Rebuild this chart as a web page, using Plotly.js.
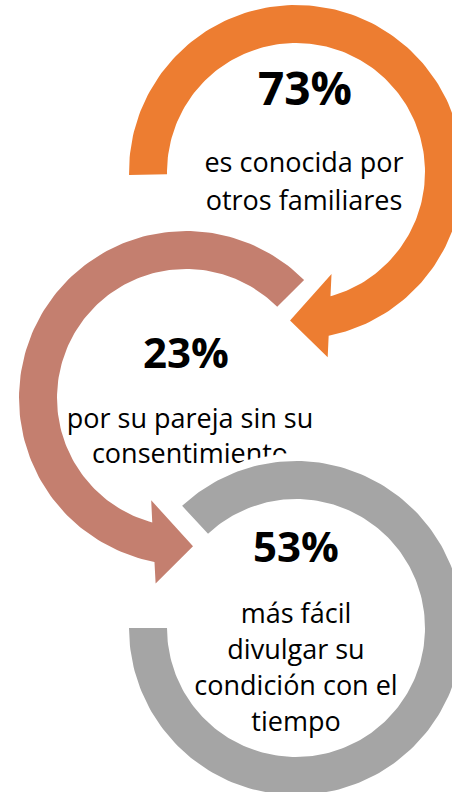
<!DOCTYPE html>
<html>
<head>
<meta charset="utf-8">
<script src="https://cdn.plot.ly/plotly-3.0.1.min.js"></script>
<style>
  html, body { margin: 0; padding: 0; background: #ffffff; }
  #chart { width: 452px; height: 792px; }
</style>
</head>
<body>
<div id="chart"></div>
<script>
// ---------- DATA ----------
const pctValues = [73, 23, 53];
const descLines = [
  ['es conocida por', 'otros familiares'],
  ['por su pareja sin su', 'consentimiento'],
  ['más fácil', 'divulgar su', 'condición con el', 'tiempo']
];

// ---------- STYLE / GEOMETRY CONFIG ----------
const ringColors = ['#ED7D31', '#C47F6F', '#A5A5A5'];
const R_IN = 129, R_OUT = 167;
const rings = [
  { cx: 296, cy: 172, start: 181, tip: -92.3, dir: -1, arrow: true },
  { cx: 186, cy: 398, start: 45, tip: 272.7, dir: 1, arrow: true },
  { cx: 296, cy: 628, start: 133, tip: -180, dir: -1, arrow: false }
];
const ARROW = { tipR: 148.5, wInR: 108, wInBack: 21.5, wOutR: 188, wOutBack: 12 };
const textCfg = [
  { pct: { x: 305, base: 105, size: 46 }, x: 304, bases: [172, 209.5], size: 27 },
  { pct: { x: 186, base: 368, size: 42 }, x: 190, bases: [428, 463], size: 27 },
  { pct: { x: 296, base: 562, size: 42 }, x: 296, bases: [622.5, 659, 695, 731], size: 27 }
];
const FONT = 'Open Sans, Noto Sans, sans-serif';

// ---------- GEOMETRY HELPERS ----------
const rad = d => d * Math.PI / 180;
function pt(c, r, a) { return [c.cx + r * Math.cos(rad(a)), c.cy - r * Math.sin(rad(a))]; }
function angOf(c, p) { return Math.atan2(c.cy - p[1], p[0] - c.cx) * 180 / Math.PI; }
function norm(c, a) {
  if (c.dir > 0) { while (a < c.start) a += 360; }
  else { while (a > c.start) a -= 360; }
  return a;
}
function arcPts(c, r, a0, a1) {
  const n = Math.max(8, Math.ceil(Math.abs(a1 - a0) / 1.5));
  const out = [];
  for (let i = 0; i <= n; i++) out.push(pt(c, r, a0 + (a1 - a0) * i / n));
  return out;
}
function ringPath(c) {
  let poly = [];
  if (c.arrow) {
    const w1 = pt(c, ARROW.wInR, c.tip - c.dir * ARROW.wInBack);
    const w2 = pt(c, ARROW.wOutR, c.tip - c.dir * ARROW.wOutBack);
    const tp = pt(c, ARROW.tipR, c.tip);
    const lerp = t => [w1[0] + (w2[0] - w1[0]) * t, w1[1] + (w2[1] - w1[1]) * t];
    const span = ARROW.wOutR - ARROW.wInR;
    const pIn = lerp((R_IN - ARROW.wInR) / span);
    const pOut = lerp((R_OUT - ARROW.wInR) / span);
    const aOut = norm(c, angOf(c, pOut));
    const aIn = norm(c, angOf(c, pIn));
    poly = poly.concat(arcPts(c, R_OUT, c.start, aOut));
    poly.push(pOut, w2, tp, w1, pIn);
    poly = poly.concat(arcPts(c, R_IN, aIn, c.start));
  } else {
    poly = poly.concat(arcPts(c, R_OUT, c.start, c.tip));
    poly = poly.concat(arcPts(c, R_IN, c.tip, c.start));
  }
  poly.push(poly[0]);
  return { x: poly.map(p => p[0]), y: poly.map(p => p[1]) };
}

function ringTrace(i) {
  const p = ringPath(rings[i]);
  return { type: 'scatter', mode: 'lines', x: p.x, y: p.y, fill: 'toself',
    fillcolor: ringColors[i], line: { width: 0, color: ringColors[i] },
    hoverinfo: 'skip', showlegend: false };
}
function haloTrace(i, w) {
  const p = ringPath(rings[i]);
  return { type: 'scatter', mode: 'lines', x: p.x, y: p.y, fill: 'toself',
    fillcolor: '#ffffff', line: { width: w, color: '#ffffff' },
    hoverinfo: 'skip', showlegend: false };
}
function textTraces(i) {
  const cfg = textCfg[i];
  const tr = [];
  // percentage (baseline = y + 0.25*size for 'middle center')
  tr.push({ type: 'scatter', mode: 'text', x: [cfg.pct.x],
    y: [cfg.pct.base - 0.25 * cfg.pct.size], text: ['<b>' + pctValues[i] + '%</b>'],
    textposition: 'middle center', cliponaxis: false,
    textfont: { family: FONT, size: cfg.pct.size, color: '#000000', weight: 700 },
    hoverinfo: 'skip', showlegend: false });
  tr.push({ type: 'scatter', mode: 'text',
    x: descLines[i].map(() => cfg.x),
    y: descLines[i].map((_, k) => cfg.bases[k] - 0.25 * cfg.size),
    text: descLines[i], textposition: 'middle center', cliponaxis: false,
    textfont: { family: FONT, size: cfg.size, color: '#000000' },
    hoverinfo: 'skip', showlegend: false });
  return tr;
}

const traces = [];
traces.push(ringTrace(0));
traces.push(...textTraces(0));
traces.push(ringTrace(1));
traces.push(...textTraces(1));
traces.push(haloTrace(2, 16));
traces.push(ringTrace(2));
traces.push(...textTraces(2));

const layout = {
  width: 452, height: 792,
  margin: { l: 0, r: 0, t: 0, b: 0, pad: 0 },
  paper_bgcolor: '#ffffff', plot_bgcolor: '#ffffff',
  xaxis: { range: [0, 452], visible: false, fixedrange: true },
  yaxis: { range: [792, 0], visible: false, fixedrange: true },
  showlegend: false
};

Plotly.newPlot('chart', traces, layout, { staticPlot: true, displayModeBar: false });
</script>
</body>
</html>
